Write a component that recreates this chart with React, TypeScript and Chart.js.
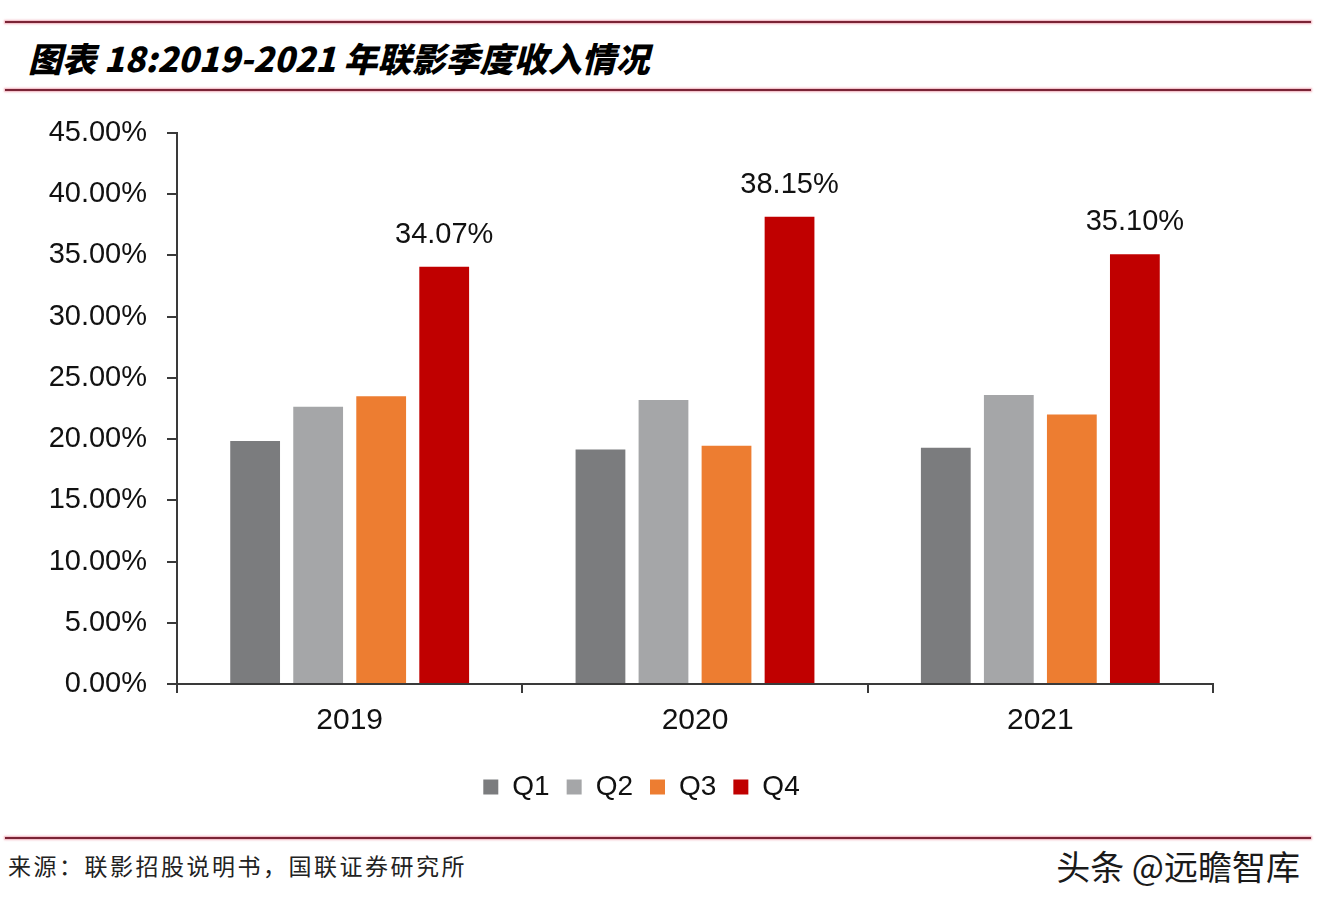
import React, { useEffect, useRef } from "react";
import { Chart, registerables } from "chart.js";

Chart.register(...registerables);

const years = ["2019", "2020", "2021"];
const seriesNames = ["Q1", "Q2", "Q3", "Q4"];
const q1 = [19.85, 19.15, 19.3];
const q2 = [22.65, 23.2, 23.6];
const q3 = [23.5, 19.45, 22.0];
const q4 = [34.07, 38.15, 35.1];
const seriesColors = ["#7b7c7e", "#a5a6a8", "#ed7d31", "#c00000"];
const yTickMin = 0;
const yTickMax = 45;
const yTickStep = 5;
const labeledSeriesIndex = 3;

const titleText = "图表 18:2019-2021 年联影季度收入情况";
const sourceText = "来源：联影招股说明书，国联证券研究所";
const watermarkText = "头条 @远瞻智库";

const latin = "'Liberation Sans', Arial, sans-serif";
const cjk = "'Noto Sans CJK SC', sans-serif";

const valueLabelPlugin = {
  id: "valueLabels",
  afterDatasetsDraw(chart: any) {
    const ctx = chart.ctx;
    const meta = chart.getDatasetMeta(labeledSeriesIndex);
    const values = chart.data.datasets[labeledSeriesIndex].data as number[];
    ctx.save();
    ctx.font = `29px ${latin}`;
    ctx.fillStyle = "#111";
    ctx.textAlign = "center";
    ctx.textBaseline = "middle";
    meta.data.forEach((el: any, i: number) => {
      ctx.fillText(values[i].toFixed(2) + "%", el.x, el.y - 32);
    });
    ctx.restore();
  },
};

// nudges the legend box to sit where the reference places it
const legendShiftPlugin = {
  id: "legendShift",
  afterLayout(chart: any) {
    const lg = chart.legend;
    if (!lg) return;
    lg.left += 15;
    lg.right += 15;
    lg.top += 4;
    lg.bottom += 4;
  },
};

function ChartCanvas() {
  const ref = useRef<HTMLCanvasElement | null>(null);
  useEffect(() => {
    if (!ref.current) return;
    const seriesData = [q1, q2, q3, q4];
    const axisColor = "#3a3a3a";
    const chart = new Chart(ref.current, {
      type: "bar",
      data: {
        labels: years,
        datasets: seriesNames.map((name, i) => ({
          label: name,
          data: seriesData[i],
          backgroundColor: seriesColors[i],
          borderWidth: 0,
          categoryPercentage: 0.73,
          barPercentage: 0.79,
        })),
      },
      options: {
        responsive: false,
        animation: false,
        layout: { padding: { left: 40, right: 109, top: 133, bottom: 0 } },
        plugins: {
          legend: {
            position: "bottom",
            labels: {
              boxWidth: 15,
              boxHeight: 15,
              padding: 17,
              color: "#111",
              font: { size: 28, family: latin },
            },
          },
          tooltip: { enabled: false },
        },
        scales: {
          x: {
            grid: {
              display: true,
              drawOnChartArea: false,
              drawTicks: true,
              tickLength: 9,
              color: axisColor,
              lineWidth: 2,
              offset: true,
            },
            border: { display: true, color: axisColor, width: 2 },
            ticks: { color: "#111", font: { size: 30, family: latin }, padding: 10 },
            afterFit: (s: any) => {
              s.height = 68;
            },
          },
          y: {
            min: yTickMin,
            max: yTickMax,
            ticks: {
              stepSize: yTickStep,
              color: "#111",
              font: { size: 29, family: latin },
              padding: 20,
              callback: (v: any) => Number(v).toFixed(2) + "%",
            },
            grid: {
              display: true,
              drawOnChartArea: false,
              drawTicks: true,
              tickLength: 10,
              color: axisColor,
              lineWidth: 2,
            },
            border: { display: true, color: axisColor, width: 2 },
            afterFit: (s: any) => {
              s.width = 137;
            },
          },
        },
      },
      plugins: [valueLabelPlugin, legendShiftPlugin],
    });
    return () => chart.destroy();
  }, []);
  return (
    <canvas
      ref={ref}
      width={1322}
      height={807}
      style={{ position: "absolute", left: 0, top: 0, width: 1322, height: 807 }}
    />
  );
}

const rule = (top: number): React.CSSProperties => ({
  position: "absolute",
  left: 5,
  width: 1306,
  top,
  height: 2,
  background: "#7a2436",
  boxShadow: "0 0 2px 1px rgba(230,120,140,0.6)",
});

export default function App() {
  return (
    <div
      style={{
        position: "absolute",
        left: 0,
        top: 0,
        width: 1322,
        height: 910,
        background: "#fff",
        overflow: "hidden",
      }}
    >
      <div style={rule(21)} />
      <div
        style={{
          position: "absolute",
          left: 28,
          top: 36,
          fontFamily: cjk,
          fontWeight: 900,
          fontStyle: "italic",
          fontSize: 34,
          lineHeight: "44px",
          color: "#000",
          whiteSpace: "nowrap",
        }}
      >
        {titleText}
      </div>
      <div style={rule(89)} />
      <ChartCanvas />
      <div style={rule(837)} />
      <div
        style={{
          position: "absolute",
          left: 8,
          top: 850,
          fontFamily: cjk,
          fontSize: 23,
          letterSpacing: 2.5,
          lineHeight: "30px",
          color: "#222",
          whiteSpace: "nowrap",
        }}
      >
        {sourceText}
      </div>
      <div
        style={{
          position: "absolute",
          right: 22,
          top: 845,
          fontFamily: cjk,
          fontSize: 34,
          lineHeight: "42px",
          color: "#1a1a1a",
          whiteSpace: "nowrap",
          textShadow: "0 0 2px #fff",
        }}
      >
        {watermarkText}
      </div>
    </div>
  );
}
